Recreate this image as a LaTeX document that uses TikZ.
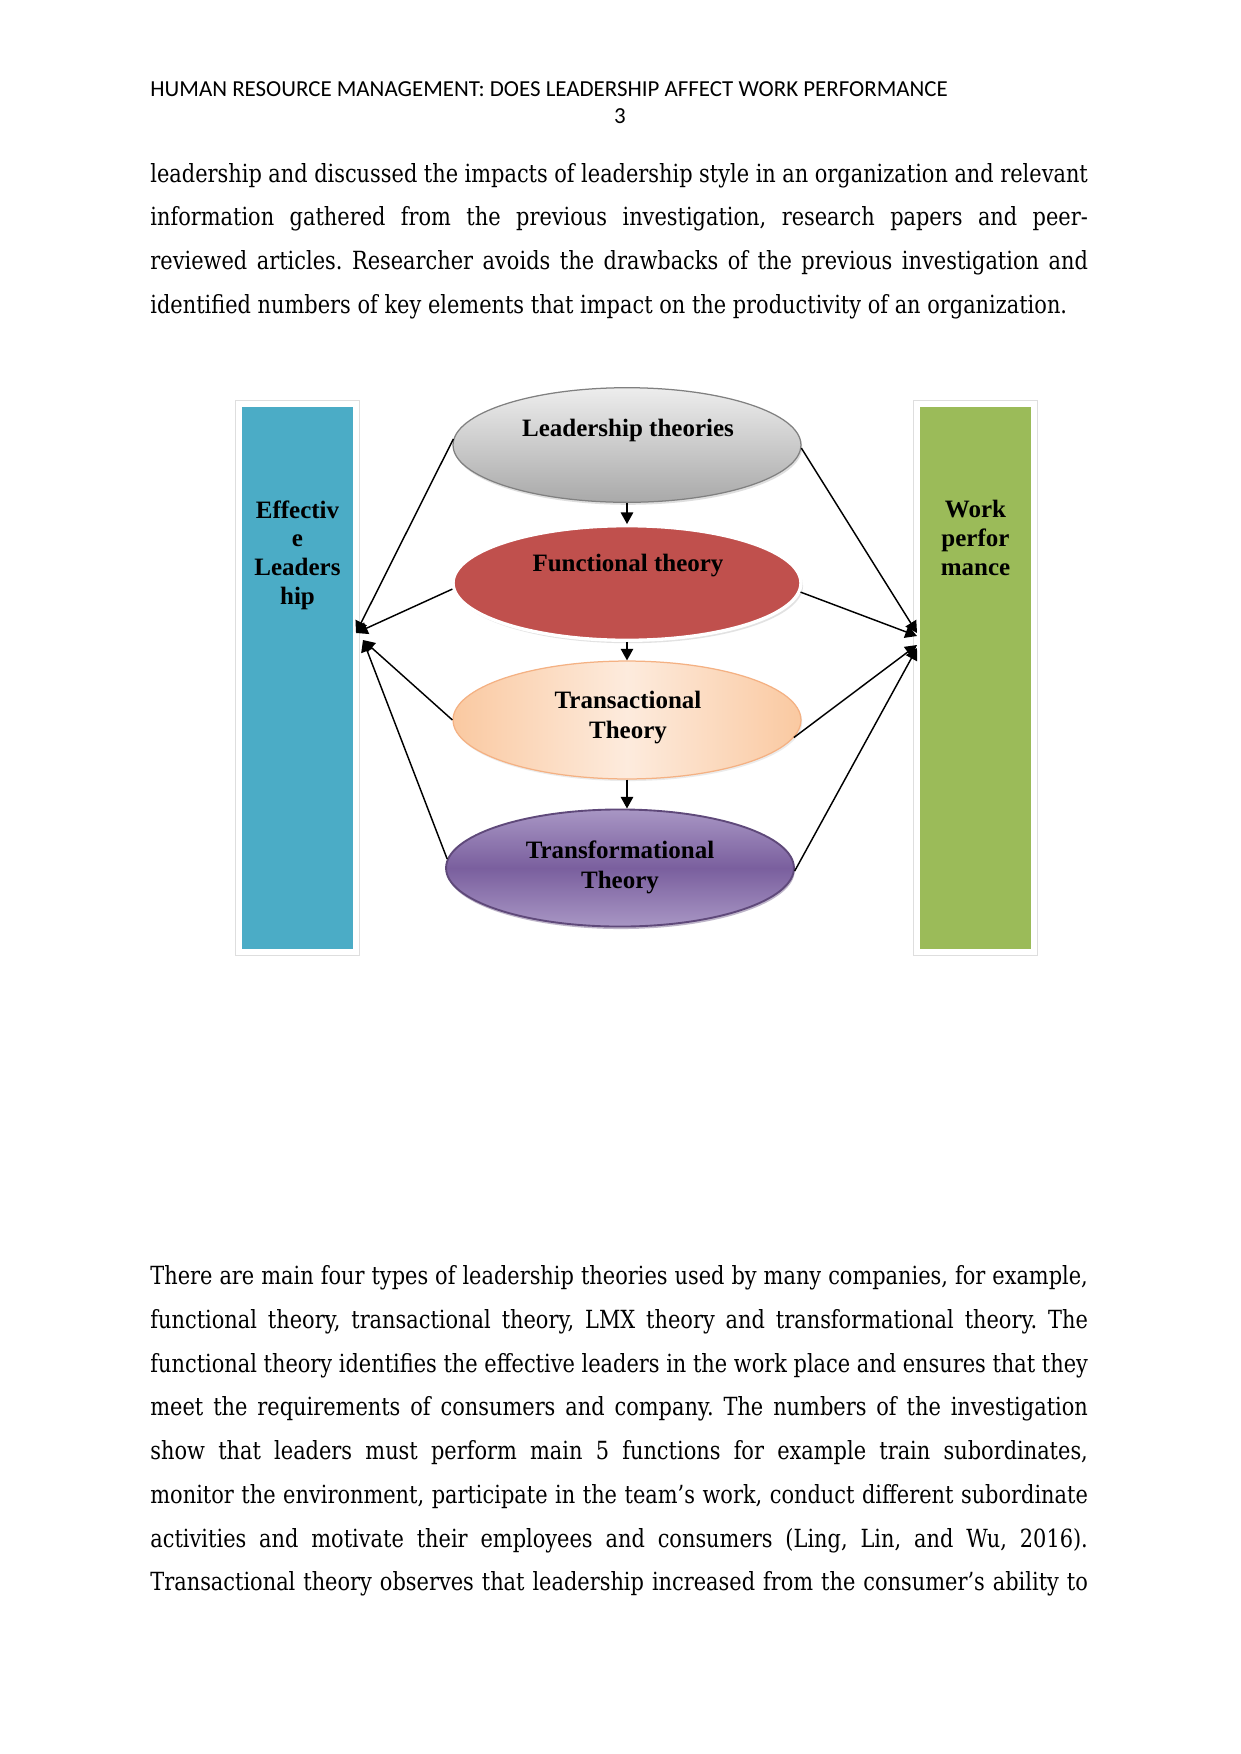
\documentclass[tikz,border=0pt]{standalone}
\usepackage{fontspec}
\setmainfont{DejaVu Serif}[FakeStretch=0.836]
\newfontfamily\headfont{Carlito}
\newfontfamily\diafont{Liberation Serif}
\usetikzlibrary{arrows.meta, shapes.geometric, positioning, shadows}
\frenchspacing
\hyphenpenalty=10000

\definecolor{effblue}{HTML}{4BACC6}
\definecolor{workgreen}{HTML}{9BBB59}
\definecolor{funcred}{HTML}{C0504D}
\definecolor{greylight}{HTML}{EDEDED}
\definecolor{greydark}{HTML}{A9A9A9}
\definecolor{peachdark}{HTML}{FAC9A1}
\definecolor{peachlight}{HTML}{FDEBDD}
\definecolor{peachline}{HTML}{F4B183}
\definecolor{purplelight}{HTML}{A896C4}
\definecolor{purpledark}{HTML}{7A5F9E}
\definecolor{purpleline}{HTML}{5F497A}

\begin{document}
\begin{tikzpicture}[
  x=0.48pt, y=-0.48pt,
  headtxt/.style = {inner sep=0pt, font=\headfont\fontsize{11pt}{13pt}\selectfont},
  bodytxt/.style = {anchor=base west, inner sep=0pt, text width=450pt,
                    align=justify, font=\fontsize{12pt}{21pt}\selectfont},
  sidebox/.style = {rectangle, draw=white, line width=2.8pt,
                    minimum width=56pt, minimum height=263pt,
                    preaction={draw=black!13, line width=3.8pt},
                    drop shadow={shadow xshift=1pt, shadow yshift=-1.4pt,
                                 fill=black!18}},
  sidetxt/.style = {anchor=north, inner sep=0pt, align=center,
                    font=\diafont\bfseries\fontsize{12pt}{13.8pt}\selectfont},
  theory/.style  = {ellipse, inner sep=0pt, minimum width=167pt,
                    minimum height=55pt},
  thtxt/.style   = {inner sep=0pt, align=center,
                    font=\diafont\bfseries\fontsize{12pt}{14.4pt}\selectfont},
  arr/.style     = {-{Triangle[length=5.6pt, width=6pt]}, line width=0.7pt},
]
\useasboundingbox (0,0) rectangle (1241,1754);
\fill[white] (0,0) rectangle (1241,1754);

%% page header and text
\node[headtxt, anchor=base west] (head) at (150,96)
  {HUMAN RESOURCE MANAGEMENT: DOES LEADERSHIP AFFECT WORK PERFORMANCE};
\node[headtxt, anchor=base] (pageno) at (620,123) {3};

\node[bodytxt] (para1) at (150,182)
  {leadership and discussed the impacts of leadership style in an organization and relevant\linebreak
   information gathered from the previous investigation, research papers and peer-\linebreak
   reviewed articles. Researcher avoids the drawbacks of the previous investigation and\linebreak
   identified numbers of key elements that impact on the productivity of an organization.};

\node[bodytxt] (para2) at (150,1284.5)
  {There are main four types of leadership theories used by many companies, for example,\linebreak
   functional theory, transactional theory, LMX theory and transformational theory. The\linebreak
   functional theory identifies the effective leaders in the work place and ensures that they\linebreak
   meet the requirements of consumers and company. The numbers of the investigation\linebreak
   show that leaders must perform main 5 functions for example train subordinates,\linebreak
   monitor the environment, participate in the team’s work, conduct different subordinate\linebreak
   activities and motivate their employees and consumers (Ling, Lin, and Wu, 2016).\linebreak
   Transactional theory observes that leadership increased from the consumer’s ability to\linebreak};

%% side boxes
\node[sidebox, fill=effblue]   (eff)  at (297.5,678) {};
\node[sidebox, fill=workgreen] (work) at (975.5,678) {};
\node[sidetxt] (eff-t)  at (297.5,500) {Effectiv\\e\\Leaders\\hip};
\node[sidetxt] (work-t) at (975.5,500) {Work\\perfor\\mance};

%% theory ellipses
\node[theory, draw=black!50, line width=0.6pt, top color=greylight, bottom color=greydark,
      drop shadow={shadow xshift=0.6pt, shadow yshift=-1.2pt, fill=black!25}] (lead) at (627,445) {};
\node[theory, fill=funcred, draw=white, line width=1.6pt,
      drop shadow={shadow xshift=1pt, shadow yshift=-1.4pt, fill=black!22}] (func) at (627,583) {};
\node[theory, draw=peachline, line width=0.6pt, left color=peachdark, right color=peachdark,
      middle color=peachlight, minimum height=56.6pt,
      drop shadow={shadow xshift=0.6pt, shadow yshift=-1pt, fill=black!15}] (trans) at (627,720) {};
\node[theory, draw=purpleline, line width=0.9pt, top color=purplelight, bottom color=purplelight,
      middle color=purpledark, minimum height=56.2pt,
      drop shadow={shadow xshift=0.4pt, shadow yshift=-1.2pt, fill=purpleline!80}] (transf) at (620,868) {};

\node[thtxt, anchor=base]  (lead-t)   at (628,436) {Leadership theories};
\node[thtxt, anchor=base]  (func-t)   at (628,571) {Functional theory};
\node[thtxt, anchor=north] (trans-t)  at (628,691) {Transactional\\Theory};
\node[thtxt, anchor=north] (transf-t) at (620,840) {Transformational\\Theory};

%% arrow ends on the boxes
\coordinate (effA)  at (356,633);
\coordinate (effB)  at (363,640);
\coordinate (workA) at (917,633);
\coordinate (workB) at (917,636);
\coordinate (workC) at (917,645);
\coordinate (workD) at (917,648);

%% connectors
\draw[arr] (lead.south)  -- (func.north);
\draw[arr] (func.south)  -- (trans.north);
\draw[arr] (trans.south) -- (trans.south |- transf.north);

\draw[arr] (lead.178)   -- (effA);
\draw[arr] (func.182)   -- (effA);
\draw[arr] (trans.west) -- (effB);
\draw[arr] (transf.177) -- (effB);

\draw[arr] (lead.-1)   -- (workA);
\draw[arr] (func.-3)   -- (workB);
\draw[arr] (trans.-6)  -- (workC);
\draw[arr] (transf.-1) -- (workD);

\end{tikzpicture}
\end{document}
